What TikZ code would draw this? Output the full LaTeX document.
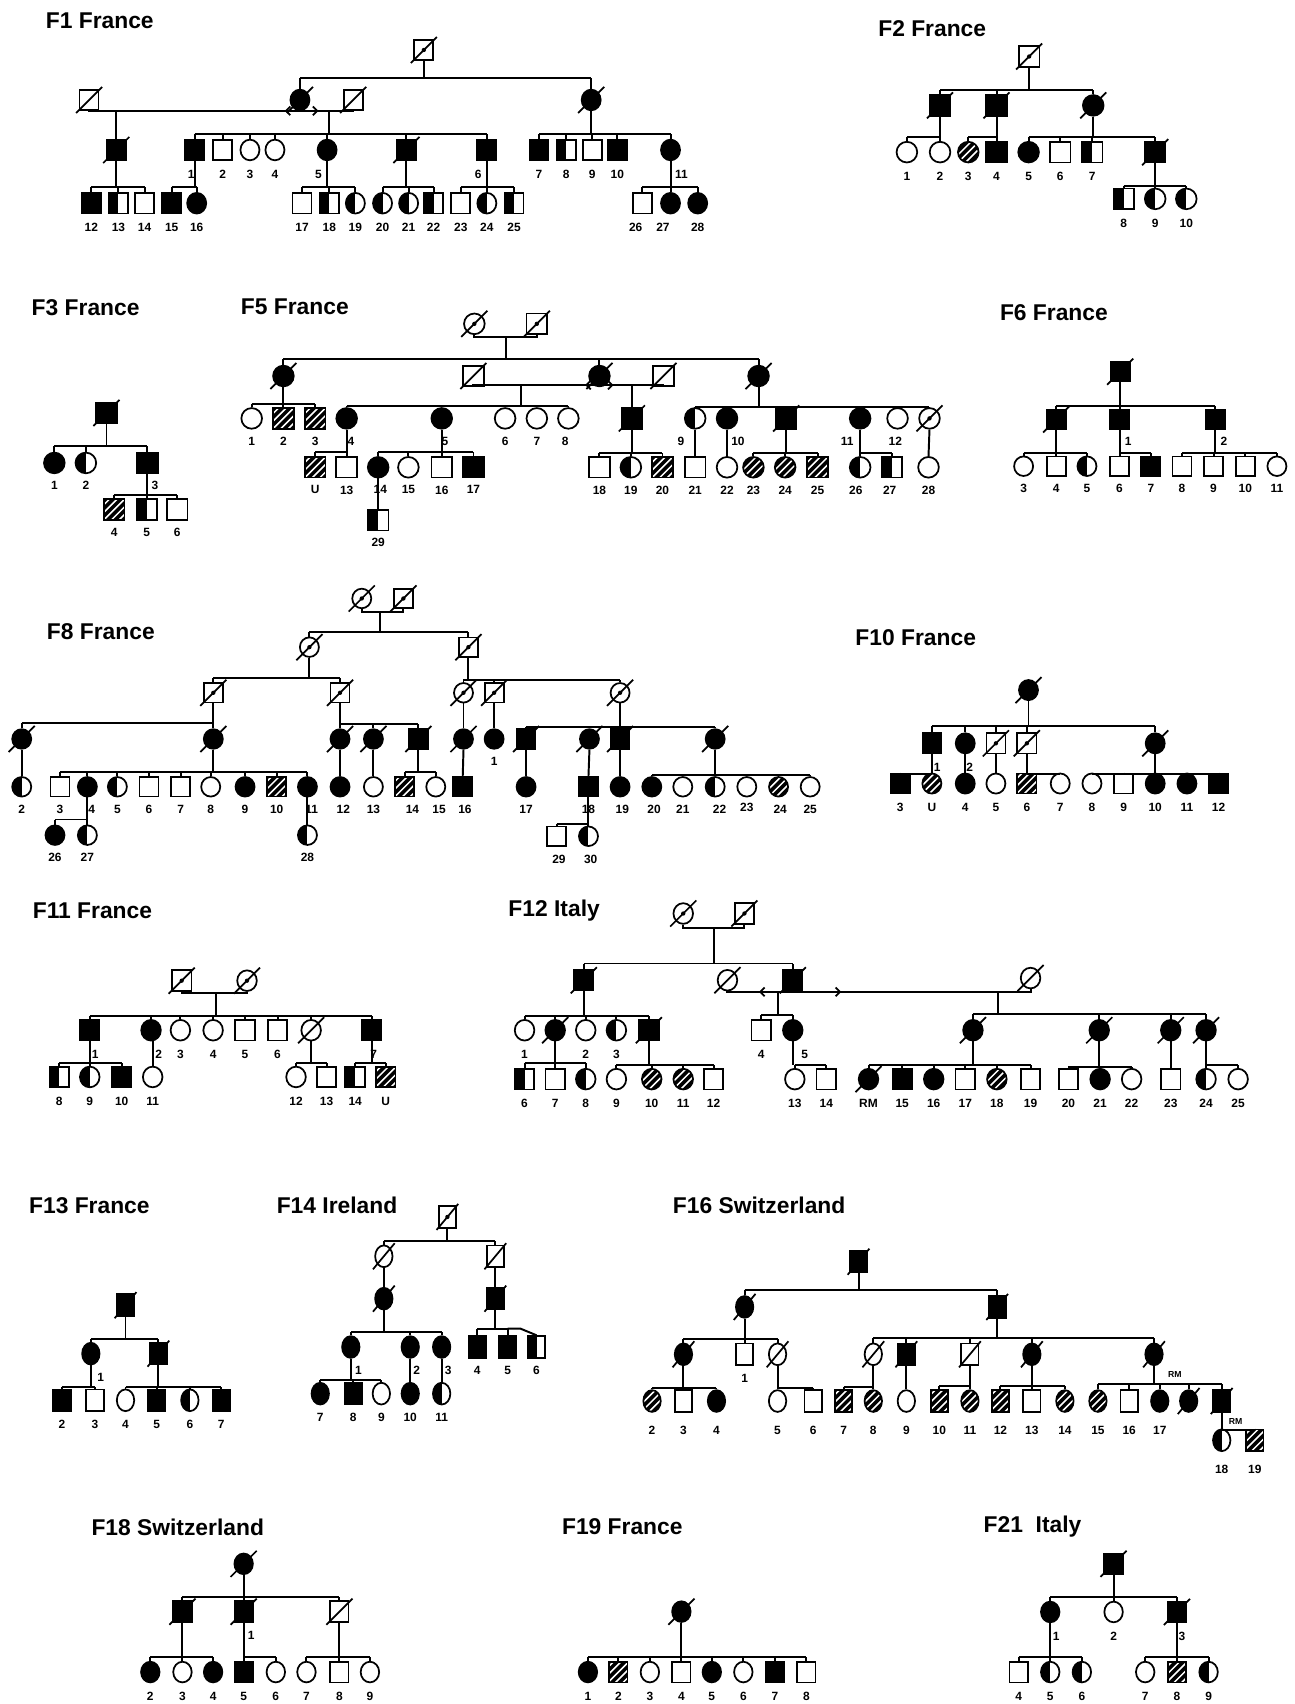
\documentclass[tikz,border=0pt]{standalone}
\usepackage{fontspec}
\setmainfont{Liberation Sans}
\usetikzlibrary{shapes.geometric,arrows.meta,calc}
\newcommand\symw{18pt}
\newcommand\symh{19pt}
\newcommand\dkx{12}
\newcommand\dky{12}
\tikzset{
 ped/.style={line width=1.8pt},
 sym/.style={draw,line width=1.6pt,inner sep=0pt,minimum width=\symw,minimum height=\symh},
 sq/.style={sym,rectangle},
 ci/.style={sym,ellipse},
 HH/.style={path picture={\fill[black] (path picture bounding box.south west) rectangle (path picture bounding box.north);}},
 XX/.style={fill=black,path picture={\foreach \k in {-21,-14,...,21}{\draw[white,line width=1.4pt] ([xshift=\k pt]path picture bounding box.center) ++(-15pt,-15pt) -- ++(30pt,30pt);}}},
 sqF/.style={sq,fill=black}, sqH/.style={sq,HH}, sqX/.style={sq,XX},
 ciF/.style={ci,fill=black}, ciH/.style={ci,HH}, ciX/.style={ci,XX},
 lab/.style={font=\fontsize{11}{12}\selectfont\bfseries, inner sep=0pt},
 ttl/.style={font=\fontsize{21}{24}\selectfont\bfseries, anchor=west, inner sep=0pt},
 dd/.style={line width=1.6pt},
 mar/.style={ped,{Straight Barb[length=4pt,width=8pt,line width=1.6pt]}-{Straight Barb[length=4pt,width=8pt,line width=1.6pt]}},
 rm/.style={font=\fontsize{8}{9}\selectfont\bfseries, inner sep=0pt}
}
\newcommand\Ps[5][]{\node[#3,label={[lab,#1]below:#5}] (#2) at (#4) {};}
\newcommand\Dd[1]{\draw[dd] ([xshift=-\dkx pt,yshift=-\dky pt]#1.center) -- ([xshift=\dkx pt,yshift=\dky pt]#1.center);}
\newcommand\Ddd[1]{\Dd{#1}\fill (#1.center) circle (2pt);}
\newcommand\Sib[5]{\draw[ped] (#1) -- (#1 |- 0,#2);\draw[ped] (#3.north |- 0,#2) -- (#4.north |- 0,#2);\foreach \cc in {#5}{\draw[ped] (\cc.north) -- (\cc.north |- 0,#2);}}
\newcommand\Cpl[3]{\draw[ped] (#1.south) -- (#1.south |- 0,#3) -- (#2.south |- 0,#3) -- (#2.south);}
\newcommand\Ln[2]{\draw[ped] (#2.north) -- (#2.north |- #1.south);}
\begin{document}
\begin{tikzpicture}[x=1pt,y=-1pt,label distance=8pt]
\useasboundingbox[fill=white] (0,0) rectangle (1191,1568);
% ================= F1
\renewcommand\symw{17.5pt}\renewcommand\symh{19pt}
\node[ttl] (tF1) at (42,19) {F1 France};
\Ps{a0}{sq}{390,46}{}\Ddd{a0}
\Ps{a1}{sq}{82,92}{}\Dd{a1}
\Ps{a2}{ciF}{276,92}{}\Dd{a2}
\Ps{a3}{sq}{325,92}{}\Dd{a3}
\Ps{a4}{ciF}{544,92}{}\Dd{a4}
\Sib{a0.south}{72}{a2}{a4}{a2,a4}
\Cpl{a1}{a3}{102}
\draw[ped] (a2.south) -- (a2.south |- 0,102);
\coordinate (a2l) at (262,102); \coordinate (a2r) at (293,102);
\draw[mar] (a2l) -- (a2r);
\coordinate (a1m) at (107,102); \coordinate (a3m) at (303,102);
\Ps{a5}{sqF}{107,138}{}\Dd{a5}
\Ps[xshift=-3]{a6}{sqF}{179,138}{1}
\Ps{a7}{sq}{205,138}{2}
\Ps{a8}{ci}{230,138}{3}
\Ps{a9}{ci}{253,138}{4}
\Ps[xshift=-8]{a10}{ciF}{301,138}{5}
\Ps{a11}{sqF}{374,138}{}\Dd{a11}
\Ps[xshift=-8]{a12}{sqF}{448,138}{6}
\Ps{a13}{sqF}{496,138}{7}
\Ps{a14}{sqH}{521,138}{8}
\Ps{a15}{sq}{545,138}{9}
\Ps{a16}{sqF}{568,138}{10}
\Ps[xshift=10]{a17}{ciF}{617,138}{11}
\draw[ped] (a1m) -- (a5.north);
\Sib{a3m}{123}{a6}{a12}{a6,a7,a8,a9,a10,a11,a12}
\Sib{a4.south}{123}{a13}{a17}{a13,a14,a15,a16,a17}
\Ps{a18}{sqF}{84,187}{12}
\Ps{a19}{sqH}{109,187}{13}
\Ps{a20}{sq}{133,187}{14}
\Ps{a21}{sqF}{158,187}{15}
\Ps{a22}{ciF}{181,187}{16}
\Ps{a23}{sq}{278,187}{17}
\Ps{a24}{sqH}{303,187}{18}
\Ps{a25}{ciH}{327,187}{19}
\Ps{a26}{ciH}{352,187}{20}
\Ps{a27}{ciH}{376,187}{21}
\Ps{a28}{sqH}{399,187}{22}
\Ps{a29}{sq}{424,187}{23}
\Ps{a30}{ciH}{448,187}{24}
\Ps{a31}{sqH}{473,187}{25}
\Ps[xshift=-6]{a32}{sq}{591,187}{26}
\Ps[xshift=-7]{a33}{ciF}{617,187}{27}
\Ps{a34}{ciF}{642,187}{28}
\Sib{a5.south}{172}{a18}{a20}{a18,a19,a20}
\Sib{a6.south}{172}{a21}{a22}{a21,a22}
\Sib{a10.south}{172}{a23}{a25}{a23,a24,a25}
\Sib{a11.south}{172}{a26}{a28}{a26,a27,a28}
\Sib{a12.south}{172}{a29}{a31}{a29,a30,a31}
\Sib{a17.south}{172}{a32}{a34}{a32,a33,a34}
% ================= F2
\renewcommand\symw{19pt}\renewcommand\symh{19pt}
\node[ttl] (tF2) at (808,26) {F2 France};
\Ps{b0}{sq}{947,52}{}\Ddd{b0}
\Ps{b1}{sqF}{865,97}{}\Dd{b1}
\Ps{b2}{sqF}{917,97}{}\Dd{b2}
\Ps{b3}{ciF}{1006,97}{}\Dd{b3}
\Sib{b0.south}{83}{b1}{b3}{b1,b2,b3}
\Ps{b4}{ci}{834.5,140}{1}
\Ps{b5}{ci}{865,140}{2}
\Ps{b6}{ciX}{891,140}{3}
\Ps{b7}{sqF}{917,140}{4}
\Ps{b8}{ciF}{946.5,140}{5}
\Ps{b9}{sq}{975.6,140}{6}
\Ps{b10}{sqH}{1005,140}{7}
\Ps{b11}{sqF}{1063,140}{}\Dd{b11}
\Sib{b1.south}{126}{b4}{b5}{b4,b5}
\Sib{b2.south}{126}{b6}{b7}{b6,b7}
\Sib{b3.south}{126}{b8}{b11}{b8,b9,b10,b11}
\Ps{b12}{sqH}{1034,183}{8}
\Ps{b13}{ciH}{1063,183}{9}
\Ps{b14}{ciH}{1091.6,183}{10}
\Sib{b11.south}{171}{b12}{b14}{b12,b13,b14}
% ================= F3
\tikzset{label distance=6.5pt}
\node[ttl] (tF3) at (29,283) {F3 France};
\Ps{c0}{sqF}{98,380}{}\Dd{c0}
\Ps{c1}{ciF}{50,426}{1}
\Ps{c2}{ciH}{79,426}{2}
\Ps[xshift=7]{c3}{sqF}{135.6,426}{3}
\Sib{c0.south}{410}{c1}{c3}{c1,c2,c3}
\Ps{c4}{sqX}{105,469}{4}
\Ps{c5}{sqH}{135,469}{5}
\Ps{c6}{sq}{163,469}{6}
\Sib{c3.south}{455.6}{c4}{c6}{c4,c5,c6}
% ================= F5
\node[ttl] (tF5) at (221.5,282) {F5 France};
\Ps{e0}{ci}{436.5,298}{}\Ddd{e0}
\Ps{e1}{sq}{494,298}{}\Ddd{e1}
\Cpl{e0}{e1}{310.5}
\coordinate (e01) at (465.5,310.5);
\Ps{e2}{ciF}{260.8,346}{}\Dd{e2}
\Ps{e3}{sq}{435.6,346}{}\Dd{e3}
\Ps{e4}{ciF}{551.6,346}{}\Dd{e4}
\Ps{e5}{sq}{610.5,346}{}\Dd{e5}
\Ps{e6}{ciF}{698,346}{}\Dd{e6}
\Sib{e01}{330}{e2}{e6}{e2,e4,e6}
\Cpl{e3}{e5}{354.3}
\draw[ped] (e4.south) -- (e4.south |- 0,354.3);
\coordinate (e4l) at (538.4,354.3); \coordinate (e4r) at (564.5,354.3);
\draw[mar] (e4l) -- (e4r);
\coordinate (e3m) at (479,354.3); \coordinate (e5m) at (581.4,354.3);
\Ps{e13}{ci}{231.6,385}{1}
\Ps{e14}{sqX}{260.8,385}{2}
\Ps{e15}{sqX}{290,385}{3}
\Ps[xshift=4]{e7}{ciF}{319,385}{4}
\Ps[xshift=3]{e8}{ciF}{406.5,385}{5}
\Ps{e9}{ci}{464.8,385}{6}
\Ps{e10}{ci}{494,385}{7}
\Ps[xshift=-3]{e11}{ci}{523,385}{8}
\Ps{e12}{sqF}{581.4,385}{}\Dd{e12}
\Ps[xshift=-13]{e16}{ciH}{639.7,385}{9}
\Ps[xshift=10]{e17}{ciF}{669,385}{10}
\Ps{e18}{sqF}{723.4,385}{}\Dd{e18}
\Ps[xshift=-12]{e19}{ciF}{791.5,385}{11}
\Ps[xshift=-2]{e20}{ci}{825.9,385}{12}
\Ps{e21}{ci}{855.3,385}{}\Ddd{e21}
\Sib{e2.south}{372}{e13}{e15}{e13,e14,e15}
\Sib{e3m}{373.7}{e7}{e11}{e7,e8,e9,e10,e11}
\draw[ped] (e5m) -- (e12.north);
\Sib{e6.south}{374.3}{e16}{e21}{e16,e17,e18,e19,e20,e21}
\Ps{e22}{sqX}{290,430}{U}
\Ps{e23}{sq}{319,430}{13}
\Ps[xshift=2]{e24}{ciF}{348,430}{14}
\Ps{e25}{ci}{375.8,430}{15}
\Ps{e26}{sq}{406.5,430}{16}
\Ps{e27}{sqF}{435.7,430}{17}
\Ps{e28}{sqH}{348,478.6}{29}
\Ps{e29}{sq}{551.6,430}{18}
\Ps{e30}{ciH}{580.5,430}{19}
\Ps{e31}{sqX}{609.6,430}{20}
\Ps{e32}{sq}{639.7,430}{21}
\Ps{e33}{ci}{669,430}{22}
\Ps{e34}{ciX}{693.3,430}{23}
\Ps{e35}{ciX}{722.5,430}{24}
\Ps{e36}{sqX}{752.3,430}{25}
\Ps[xshift=-4]{e37}{ciH}{791.5,430}{26}
\Ps[xshift=-2]{e38}{sqH}{820.7,430}{27}
\Ps{e39}{ci}{854.4,430}{28}
\Sib{e7.south}{415.7}{e22}{e23}{e22,e23}
\Sib{e8.south}{416}{e24}{e27}{e24,e25,e26,e27}
\draw[ped] (e24.south) -- (e28.north);
\Sib{e12.south}{417.2}{e29}{e31}{e29,e30,e31}
\draw[ped] (e16.south) -- (e32.north);
\draw[ped] (e17.south) -- (e33.north);
\Sib{e18.south}{417}{e34}{e36}{e34,e35,e36}
\Sib{e19.south}{417}{e37}{e38}{e37,e38}
\draw[ped] (e21.south) -- (e39.north);
% ================= F6
\renewcommand\symw{17.5pt}\renewcommand\symh{18pt}
\node[ttl] (tF6) at (920,288) {F6 France};
\Ps{f0}{sqF}{1030.8,342}{}\Dd{f0}
\Ps{f1}{sqF}{971.9,386}{}\Dd{f1}
\Ps[xshift=8]{f2}{sqF}{1030.2,386}{1}
\Ps[xshift=8]{f3}{sqF}{1118.3,386}{2}
\Sib{f0.south}{373.7}{f1}{f3}{f1,f2,f3}
\Ps{f4}{ci}{941.9,429}{3}
\Ps{f5}{sq}{971.9,429}{4}
\Ps{f6}{ciH}{1000.2,429}{5}
\Ps{f7}{sq}{1030.2,429}{6}
\Ps{f8}{sqF}{1059,429}{7}
\Ps{f9}{sq}{1087.6,429}{8}
\Ps{f10}{sq}{1116.7,429}{9}
\Ps{f11}{sq}{1145.9,429}{10}
\Ps{f12}{ci}{1175,429}{11}
\Sib{f1.south}{416.6}{f4}{f6}{f4,f5,f6}
\Sib{f2.south}{416.6}{f7}{f8}{f7,f8}
\Sib{f3.south}{416.6}{f9}{f12}{f9,f10,f11,f12}
% ================= F8
\tikzset{label distance=7pt}
\node[ttl] (tF8) at (43,581) {F8 France};
\Ps{h0}{ci}{332.9,550.7}{}\Ddd{h0}
\Ps{h1}{sq}{371.2,550.7}{}\Ddd{h1}
\Cpl{h0}{h1}{563}
\coordinate (h01) at (349.8,563);
\Ps{h2}{ci}{284.7,595.5}{}\Ddd{h2}
\Ps{h3}{sq}{431,595.5}{}\Ddd{h3}
\Sib{h01}{581.4}{h2}{h3}{h2,h3}
\Ps{h4}{sq}{196.3,637.5}{}\Ddd{h4}
\Ps{h5}{sq}{312.9,637.5}{}\Ddd{h5}
\Ps{h6}{ci}{426.5,637.5}{}\Ddd{h6}
\Ps{h7}{sq}{454.7,637.5}{}\Ddd{h7}
\Ps{h8}{ci}{570.6,637.5}{}\Ddd{h8}
\Sib{h2.south}{624.3}{h4}{h5}{h4,h5}
\Sib{h3.south}{625.3}{h6}{h8}{h6,h7,h8}
\Ps{h9}{ciF}{20,680}{}\Dd{h9}
\Ps{h10}{ciF}{196.3,680}{}\Dd{h10}
\Ps{h11}{ciF}{312.9,680}{}\Dd{h11}
\Ps{h12}{ciF}{343.6,680}{}\Dd{h12}
\Ps{h13}{sqF}{385,680}{}\Dd{h13}
\Ps{h14}{ciF}{426.5,680}{}\Dd{h14}
\Ps{h15}{ciF}{454.7,680}{1}
\Ps{h16}{sqF}{484.1,680}{}\Dd{h16}
\Ps{h17}{ciF}{542.4,680}{}\Dd{h17}
\Ps{h18}{sqF}{570.6,680}{}\Dd{h18}
\Ps{h19}{ciF}{658.1,680}{}\Dd{h19}
\Sib{h4.south}{665.7}{h9}{h10}{h9,h10}
\Sib{h5.south}{666}{h11}{h13}{h11,h12,h13}
\draw[ped] (h6.south) -- (h14.north);
\draw[ped] (h7.south) -- (h15.north);
\Sib{h8.south}{668.8}{h16}{h19}{h16,h17,h18,h19}
\Ps{h20}{ciH}{20,724}{2}
\Ps{h21}{sq}{55.2,724}{3}
\Ps[xshift=4]{h22}{ciF}{80.4,724}{4}
\Ps{h23}{ciH}{108,724}{5}
\Ps{h24}{sq}{137.1,724}{6}
\Ps{h25}{sq}{166.3,724}{7}
\Ps{h26}{ci}{193.9,724}{8}
\Ps{h27}{ciF}{225.5,724}{9}
\Ps{h28}{sqX}{254.6,724}{10}
\Ps[xshift=4]{h29}{ciF}{282.9,724}{11}
\Ps[xshift=3]{h30}{ciF}{312.9,724}{12}
\Ps{h31}{ci}{343.6,724}{13}
\Ps[xshift=7]{h32}{sqX}{372.5,724}{14}
\Ps[xshift=3]{h33}{ci}{401,724}{15}
\Ps[xshift=2]{h34}{sqF}{425.8,724}{16}
\Ps{h35}{ciF}{484.1,724}{17}
\Ps{h36}{sqF}{541.5,724}{18}
\Ps[xshift=2]{h37}{ciF}{570.6,724}{19}
\Ps[xshift=2]{h38}{ciF}{599.8,724}{20}
\Ps{h39}{ci}{628.3,724}{21}
\Ps[xshift=4]{h40}{ciH}{658.1,724}{22}
\Ps[yshift=2]{h41}{ci}{687.2,724}{23}
\Ps[xshift=1.5]{h42}{ciX}{716.4,724}{24}
\Ps{h43}{ci}{745.5,724}{25}
\draw[ped] (h9.south) -- (h20.north);
\Sib{h10.south}{710.2}{h21}{h29}{h21,h22,h23,h24,h25,h26,h27,h28,h29}
\draw[ped] (h11.south) -- (h30.north);
\draw[ped] (h12.south) -- (h31.north);
\Sib{h13.south}{710}{h32}{h33}{h32,h33}
\draw[ped] (h14.south) -- (h34.north);
\draw[ped] (h16.south) -- (h35.north);
\draw[ped] (h17.south) -- (h36.north);
\draw[ped] (h18.south) -- (h37.north);
\Sib{h19.south}{713.3}{h38}{h43}{h38,h39,h40,h41,h42,h43}
\Ps{h44}{ciF}{50.6,768.5}{26}
\Ps{h45}{ciH}{80.4,768.5}{27}
\Ps{h46}{ciH}{282.9,768.5}{28}
\Ps[xshift=2]{h47}{sq}{512.3,769.5}{29}
\Ps[xshift=2]{h48}{ciH}{541.5,769.5}{30}
\Sib{h22.south}{754.1}{h44}{h45}{h44,h45}
\draw[ped] (h29.south) -- (h46.north);
\Sib{h36.south}{757.8}{h47}{h48}{h47,h48}
% ================= F10
\tikzset{label distance=8pt}
\renewcommand\symw{17.5pt}\renewcommand\symh{18.5pt}
\node[ttl] (tF10) at (787,587) {F10 France};
\Ps{j0}{ciF}{946.4,635}{}\Dd{j0}
\Ps[xshift=5]{j1}{sqF}{857.5,684}{1}
\Ps[xshift=4]{j2}{ciF}{888.2,684}{2}
\Ps{j3}{sq}{916.4,684}{}\Ddd{j3}
\Ps{j4}{sq}{944.9,684}{}\Ddd{j4}
\Ps{j5}{ciF}{1063,684}{}\Dd{j5}
\Sib{j0.south}{668.2}{j1}{j5}{j1,j2,j3,j4,j5}
\Ps{j6}{sqF}{828.3,721}{3}
\Ps{j7}{ciX}{857.5,721}{U}
\Ps{j8}{ciF}{888.2,721}{4}
\Ps{j9}{ci}{916.4,721}{5}
\Ps{j10}{sqX}{944.9,721}{6}
\Ps{j11}{ci}{975.6,721}{7}
\Ps{j12}{ci}{1004.8,721}{8}
\Ps{j13}{sq}{1033.9,721}{9}
\Ps{j14}{ciF}{1063,721}{10}
\Ps{j15}{ciF}{1092.2,721}{11}
\Ps{j16}{sqF}{1121.3,721}{12}
\Sib{j1.south}{712.4}{j6}{j7}{j6,j7}
\draw[ped] (j2.south) -- (j8.north);
\draw[ped] (j3.south) -- (j9.north);
\Sib{j4.south}{712.4}{j10}{j11}{j10,j11}
\Sib{j5.south}{712.4}{j12}{j16}{j12,j13,j14,j15,j16}
% ================= F11
\renewcommand\symw{18pt}\renewcommand\symh{19pt}
\node[ttl] (tF11) at (30,838) {F11 France};
\Ps{k0}{sq}{167.2,902.4}{}\Ddd{k0}
\Ps{k1}{ci}{227.3,902.4}{}\Ddd{k1}
\Cpl{k0}{k1}{914}
\coordinate (k01) at (199.1,914);
\Ps[xshift=5]{k2}{sqF}{82.6,948}{1}
\Ps[xshift=7]{k3}{ciF}{139,948}{2}
\Ps{k4}{ci}{166,948}{3}
\Ps{k5}{ci}{196.1,948}{4}
\Ps{k6}{sq}{225.4,948}{5}
\Ps{k7}{sq}{255.4,948}{6}
\Ps{k8}{ci}{286.3,948}{}\Dd{k8}
\Ps[xshift=2]{k9}{sqF}{341.9,948}{7}
\Sib{k01}{935.1}{k2}{k9}{k2,k3,k4,k5,k6,k7,k8,k9}
\Ps{k10}{sqH}{54.5,991}{8}
\Ps{k11}{ciH}{82.6,991}{9}
\Ps{k12}{sqF}{112,991}{10}
\Ps{k13}{ci}{140.5,991}{11}
\Ps{k14}{ci}{272.4,991}{12}
\Ps{k15}{sq}{300.5,991}{13}
\Ps{k16}{sqH}{326.8,991}{14}
\Ps{k17}{sqX}{355,991}{U}
\Sib{k2.south}{978.1}{k10}{k12}{k10,k11,k12}
\Ln{k3}{k13}
\Sib{k8.south}{978.1}{k14}{k15}{k14,k15}
\Sib{k9.south}{978.1}{k16}{k17}{k16,k17}
% ================= F12
\node[ttl] (tF12) at (467.7,838) {F12 Italy};
\Ps{l0}{ci}{628.7,840.6}{}\Ddd{l0}
\Ps{l1}{sq}{685,840.6}{}\Ddd{l1}
\Cpl{l0}{l1}{853.8}
\coordinate (l01) at (656.6,853.8);
\Ps{l2}{sqF}{537.2,902}{}\Dd{l2}
\Ps{l3}{ci}{669.4,902}{}\Dd{l3}
\Ps{l4}{sqF}{729.5,902}{}\Dd{l4}
\Ps{l10}{ci}{948.3,900}{}\Dd{l10}
\Sib{l01}{886.6}{l2}{l4}{l2,l4}
\Cpl{l3}{l10}{912.7}
\draw[ped] (l4.south) -- (l4.south |- 0,912.7);
\coordinate (l4l) at (698.5,912.7); \coordinate (l4r) at (774,912.7);
\draw[mar] (l4l) -- (l4r);
\coordinate (l4a) at (715.9,912.7); \coordinate (l4b) at (918.5,912.7);
\Ps{l5}{ci}{482.7,948}{1}
\Ps{l6}{ciF}{510.9,948}{}\Dd{l6}
\Ps{l7}{ci}{539,948}{2}
\Ps{l8}{ciH}{567.2,948}{3}
\Ps{l9}{sqF}{597.1,948}{}\Dd{l9}
\Ps{l11}{sq}{700.4,948}{4}
\Ps[xshift=11]{l12}{ciF}{729.5,948}{5}
\Ps{l13}{ciF}{895.3,948}{}\Dd{l13}
\Ps{l14}{ciF}{1011.5,948}{}\Dd{l14}
\Ps{l15}{ciF}{1077.3,948}{}\Dd{l15}
\Ps{l16}{ciF}{1109.8,948}{}\Dd{l16}
\Sib{l2.south}{935.1}{l5}{l9}{l5,l6,l7,l8,l9}
\Sib{l4a}{934.2}{l11}{l12}{l11,l12}
\Sib{l4b}{932.7}{l13}{l16}{l13,l14,l15,l16}
\Ps{l17}{sqH}{482.7,993}{6}
\Ps{l18}{sq}{510.9,993}{7}
\Ps{l19}{ciH}{539,993}{8}
\Ps{l20}{ci}{567.2,993}{9}
\Ps{l21}{ciX}{599.7,993}{10}
\Ps{l22}{ciX}{628.7,993}{11}
\Ps{l23}{sq}{656.6,993}{12}
\Ps{l24}{ci}{731.4,993}{13}
\Ps{l25}{sq}{760.4,993}{14}
\Ps{l26}{ciF}{799.2,993}{RM}\Dd{l26}
\Ps{l27}{sqF}{830.2,993}{15}
\Ps{l28}{ciF}{859.2,993}{16}
\Ps{l29}{sq}{888.3,993}{17}
\Ps{l30}{ciX}{917.3,993}{18}
\Ps{l31}{sq}{948.3,993}{19}
\Ps{l32}{sq}{983.2,993}{20}
\Ps{l33}{ciF}{1012.3,993}{21}
\Ps{l34}{ci}{1041.3,993}{22}
\Ps{l35}{sq}{1077.3,993}{23}
\Ps{l36}{ciH}{1109.8,993}{24}
\Ps{l37}{ci}{1139.3,993}{25}
\Sib{l6.south}{978}{l17}{l19}{l17,l18,l19}
\Sib{l9.south}{980}{l20}{l23}{l20,l21,l22,l23}
\Sib{l12.south}{980}{l24}{l25}{l24,l25}
\Sib{l13.south}{980}{l26}{l31}{l26,l27,l28,l29,l30,l31}
\Sib{l14.south}{982}{l32}{l34}{l32,l33,l34}
\Ln{l15}{l35}
\Sib{l16.south}{980}{l36}{l37}{l36,l37}
% ================= F13
\tikzset{label distance=7pt}
\renewcommand\symw{16pt}\renewcommand\symh{20pt}\renewcommand\dkx{10}
\node[ttl] (tF13) at (26.6,1109) {F13 France};
\Ps{m0}{sqF}{115.5,1201}{}\Dd{m0}
\Ps[xshift=9]{m1}{ciF}{83.6,1245.6}{1}
\Ps{m2}{sqF}{145.8,1245.6}{}\Dd{m2}
\Sib{m0.south}{1231.8}{m1}{m2}{m1,m2}
\Ps{m3}{sqF}{57,1288.5}{2}
\Ps{m4}{sq}{87.4,1288.5}{3}
\Ps{m5}{ci}{115.5,1288.5}{4}
\Ps{m6}{sqF}{144.3,1288.5}{5}
\Ps{m7}{ciH}{174.7,1288.5}{6}
\Ps{m8}{sqF}{203.6,1288.5}{7}
\Sib{m1.south}{1276.3}{m3}{m4}{m3,m4}
\Sib{m2.south}{1276.3}{m5}{m8}{m5,m6,m7,m8}
% ================= F14
\node[ttl] (tF14) at (254.5,1109) {F14 Ireland};
\Ps{n0}{sq}{411.7,1119.8}{}\Ddd{n0}
\Ps{n1}{ci}{353.2,1156}{}\Dd{n1}
\Ps{n2}{sq}{455.8,1156}{}\Dd{n2}
\Sib{n0.south}{1141.9}{n1}{n2}{n1,n2}
\Ps{n3}{ciF}{353.2,1195}{}\Dd{n3}
\Ps{n4}{sqF}{455.8,1195}{}\Dd{n4}
\draw[ped] (n1.south) -- (n3.north);
\draw[ped] (n2.south) -- (n4.north);
\Ps[xshift=7]{n5}{ciF}{322.8,1239.5}{1}
\Ps[xshift=6]{n6}{ciF}{377.5,1239.5}{2}
\Ps[xshift=6]{n7}{ciF}{406.4,1239.5}{3}
\Sib{n3.south}{1225.7}{n5}{n7}{n5,n6,n7}
\Ps{n8}{sqF}{439,1239.5}{4}
\Ps{n9}{sqF}{467.1,1239.5}{5}
\Ps{n10}{sqH}{493.7,1239.5}{6}
\Sib{n4.south}{1222.6}{n8}{n9}{n8,n9}
\coordinate (n9t) at (479,1222.6);
\draw[ped] (n9.north |- 0,1222.6) -- (n9t) -- (n10.north);
\Ps{n11}{ciF}{294.7,1282.4}{7}
\Ps{n12}{sqF}{325.1,1282.4}{8}
\Ps{n13}{ci}{350.9,1282.4}{9}
\Ps{n14}{ciF}{377.5,1282.4}{10}
\Ps{n15}{ciH}{406.4,1282.4}{11}
\Sib{n5.south}{1270.1}{n11}{n13}{n11,n12,n13}
\draw[ped] (n6.south) -- (n14.north);
\draw[ped] (n7.south) -- (n15.north);
% ================= F16
\node[ttl] (tF16) at (619,1109) {F16 Switzerland};
\Ps{p0}{sqF}{790,1161}{}\Dd{p0}
\Ps{p1}{ciF}{685.2,1202.6}{}\Dd{p1}
\Ps{p2}{sqF}{917.6,1202.6}{}\Dd{p2}
\Sib{p0.south}{1186.6}{p1}{p2}{p1,p2}
\Ps{p3}{ciF}{628.9,1246.2}{}\Dd{p3}
\Ps{p4}{sq}{685.2,1246.2}{1}
\Ps{p5}{ci}{715.5,1246.2}{}\Dd{p5}
\Ps{p6}{ci}{803.6,1246.2}{}\Dd{p6}
\Ps{p7}{sqF}{834,1246.2}{}\Dd{p7}
\Ps{p8}{sq}{892.5,1246.2}{}\Dd{p8}
\Ps{p9}{ciF}{949.5,1246.2}{}\Dd{p9}
\Ps{p10}{ciF}{1061.9,1246.2}{}\Dd{p10}
\Sib{p1.south}{1231.8}{p3}{p5}{p3,p4,p5}
\Sib{p2.south}{1231}{p6}{p10}{p6,p7,p8,p9,p10}
\tikzset{label distance=12pt}
\Ps{p11}{ciX}{600,1289.2}{2}
\Ps{p12}{sq}{628.9,1289.2}{3}
\Ps{p13}{ciF}{659.3,1289.2}{4}
\Ps{p14}{ci}{715.5,1289.2}{5}
\Ps{p15}{sq}{748.2,1289.2}{6}
\Ps{p16}{sqX}{776.3,1289.2}{7}
\Ps{p17}{ciX}{803.6,1289.2}{8}
\Ps{p18}{ci}{834,1289.2}{9}
\Ps{p19}{sqX}{864.4,1289.2}{10}
\Ps{p20}{ciX}{892.5,1289.2}{11}
\Ps{p21}{sqX}{920.6,1289.2}{12}
\Ps{p22}{sq}{949.5,1289.2}{13}
\Ps{p23}{ciX}{979.9,1289.2}{14}
\Ps{p24}{ciX}{1010.3,1289.2}{15}
\Ps{p25}{sq}{1039.1,1289.2}{16}
\Ps{p26}{ciF}{1067.2,1289.2}{17}
\Ps{p27}{ciF}{1093.8,1289.2}{}\Dd{p27}
\Ps{p28}{sqF}{1124.2,1289.2}{}\Dd{p28}
\Sib{p3.south}{1276.9}{p11}{p13}{p11,p12,p13}
\Sib{p5.south}{1276.9}{p14}{p15}{p14,p15}
\Sib{p6.south}{1276}{p16}{p17}{p16,p17}
\draw[ped] (p7.south) -- (p18.north);
\Sib{p8.south}{1275}{p19}{p20}{p19,p20}
\Sib{p9.south}{1275}{p21}{p23}{p21,p22,p23}
\Sib{p10.south}{1273.8}{p24}{p28}{p24,p25,p26,p27,p28}
\node[rm] (pRM1) at (1081,1265) {RM};
\Ps{p29}{ciH}{1124.2,1325.3}{18}
\Ps{p30}{sqX}{1154.6,1325.3}{19}
\Sib{p28.south}{1315.5}{p29}{p30}{p29,p30}
\node[rm] (pRM2) at (1137,1308) {RM};
% ================= F18
\tikzset{label distance=8pt}
\renewcommand\symw{17pt}\renewcommand\symh{19pt}\renewcommand\dkx{12}
\node[ttl] (tF18) at (84,1405) {F18 Switzerland};
\Ps{r0}{ciF}{224.2,1439}{}\Dd{r0}
\Ps{r1}{sqF}{167.9,1483}{}\Dd{r1}
\Ps[xshift=7]{r2}{sqF}{224.2,1483}{1}\Dd{r2}
\Ps{r3}{sq}{312.3,1483}{}\Dd{r3}
\Sib{r0.south}{1469.6}{r1}{r3}{r1,r2,r3}
\Ps{r4}{ciF}{138.3,1538.6}{2}
\Ps{r5}{ci}{167.9,1538.6}{3}
\Ps{r6}{ciF}{196.1,1538.6}{4}
\Ps{r7}{sqF}{224.2,1538.6}{5}
\Ps{r8}{ci}{253.8,1538.6}{6}
\Ps{r9}{ci}{282,1538.6}{7}
\Ps{r10}{sq}{312.3,1538.6}{8}
\Ps{r11}{ci}{340.4,1538.6}{9}
\Sib{r1.south}{1524.8}{r4}{r6}{r4,r5,r6}
\Sib{r2.south}{1524.8}{r7}{r8}{r7,r8}
\Sib{r3.south}{1524.8}{r9}{r11}{r9,r10,r11}
% ================= F19
\node[ttl] (tF19) at (517,1405) {F19 France};
\Ps{s0}{ciF}{627,1483}{}\Dd{s0}
\Ps{s1}{ciF}{541,1538.6}{1}
\Ps{s2}{sqX}{569,1538.6}{2}
\Ps{s3}{ci}{598,1538.6}{3}
\Ps{s4}{sq}{627,1538.6}{4}
\Ps{s5}{ciF}{655,1538.6}{5}
\Ps{s6}{ci}{684,1538.6}{6}
\Ps{s7}{sqF}{713,1538.6}{7}
\Ps{s8}{sq}{742,1538.6}{8}
\Sib{s0.south}{1524.8}{s1}{s8}{s1,s2,s3,s4,s5,s6,s7,s8}
% ================= F21
\node[ttl] (tF21) at (905,1405) {F21\ \ Italy};
\Ps{t0}{sqF}{1024.7,1439}{}\Dd{t0}
\Ps[xshift=5.5]{t1}{ciF}{966.4,1483.3}{1}
\Ps{t2}{ci}{1024.7,1483.3}{2}
\Ps[xshift=4.5]{t3}{sqF}{1083,1483.3}{3}\Dd{t3}
\Sib{t0.south}{1469.6}{t1}{t3}{t1,t2,t3}
\Ps{t4}{sq}{937.3,1538.6}{4}
\Ps{t5}{ciH}{966.4,1538.6}{5}
\Ps{t6}{ciH}{995.5,1538.6}{6}
\Ps{t7}{ci}{1053.8,1538.6}{7}
\Ps{t8}{sqX}{1083,1538.6}{8}
\Ps{t9}{ciH}{1112.1,1538.6}{9}
\Sib{t1.south}{1524.8}{t4}{t6}{t4,t5,t6}
\Sib{t3.south}{1524.8}{t7}{t9}{t7,t8,t9}
\end{tikzpicture}
\end{document}
